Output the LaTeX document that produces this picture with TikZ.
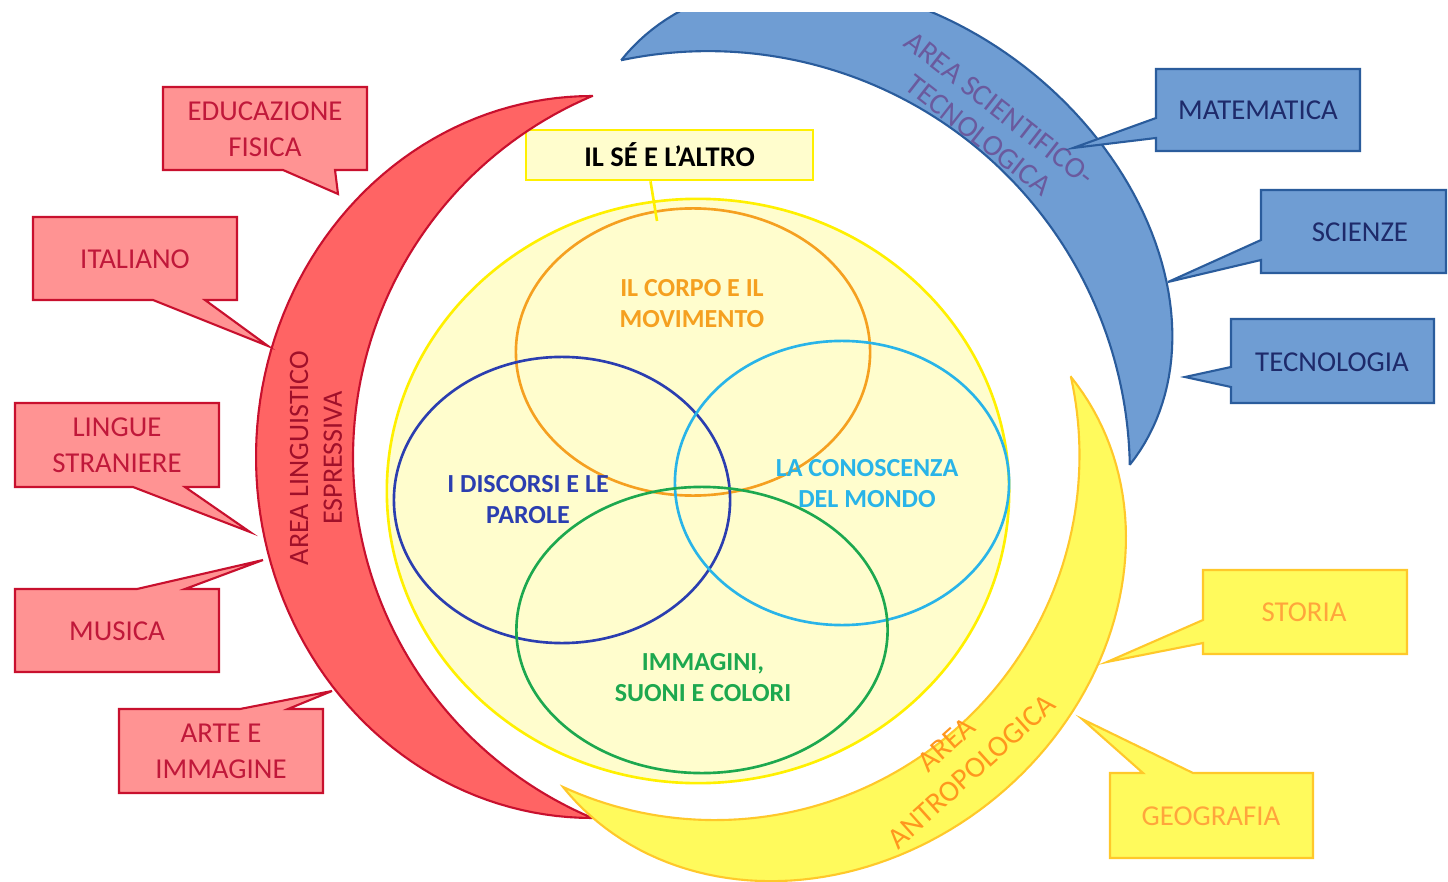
\documentclass[tikz,border=0pt]{standalone}
\usepackage{fontspec}
\setmainfont{Carlito}
\usetikzlibrary{calc}
\definecolor{redfill}{HTML}{FF6464}
\definecolor{redcall}{HTML}{FF9393}
\definecolor{redline}{HTML}{C8102E}
\definecolor{redtext}{HTML}{C0183A}
\definecolor{redarea}{HTML}{A0102A}
\definecolor{bluefill}{HTML}{6F9DD3}
\definecolor{blueline}{HTML}{2A5C9C}
\definecolor{bluetext}{HTML}{1E2A6A}
\definecolor{bluearea}{HTML}{6A5A9E}
\definecolor{yelfill}{HTML}{FFFA5C}
\definecolor{yelline}{HTML}{FFC82A}
\definecolor{yeltext}{HTML}{FFA53C}
\definecolor{yelarea}{HTML}{FF961E}
\definecolor{circfill}{HTML}{FFFDCD}
\definecolor{circline}{HTML}{FFF000}
\definecolor{vorange}{HTML}{F5A020}
\definecolor{vblue}{HTML}{2B3EB0}
\definecolor{vcyan}{HTML}{29B4E8}
\definecolor{vgreen}{HTML}{1DA84F}
\begin{document}
\begin{tikzpicture}[x=0.01cm,y=-0.01cm,
  crescred/.style={fill=redfill,draw=redline,line width=0.6pt},
  crescblue/.style={fill=bluefill,draw=blueline,line width=0.6pt},
  crescyel/.style={fill=yelfill,draw=yelline,line width=0.6pt},
  callred/.style={fill=redcall,draw=redline,line width=0.6pt},
  callblue/.style={fill=bluefill,draw=blueline,line width=0.6pt},
  callyel/.style={fill=yelfill,draw=yelline,line width=0.6pt},
  txtred/.style={text=redtext,font=\fontsize{8.2}{10.2}\selectfont,align=center,inner sep=0pt},
  txtblue/.style={text=bluetext,font=\fontsize{8.2}{10.2}\selectfont,align=center,inner sep=0pt},
  txtyel/.style={text=yeltext,font=\fontsize{8.2}{10.2}\selectfont,align=center,inner sep=0pt},
  areared/.style={text=redarea,font=\fontsize{8}{9.6}\selectfont,align=center,inner sep=0pt},
  areablue/.style={text=bluearea,font=\fontsize{8.5}{9.6}\selectfont,align=center,inner sep=0pt},
  areayel/.style={text=yelarea,font=\fontsize{8.5}{10.4}\selectfont,align=center,inner sep=0pt},
  venn/.style={line width=0.75pt},
  vlabel/.style={font=\bfseries\fontsize{7.4}{8.8}\selectfont,align=center,inner sep=0pt}
]
\useasboundingbox (0,0) rectangle (1448,882);
\fill[white] (0,0) rectangle (1448,882);

% ---------- central Venn ----------
\filldraw[fill=circfill,draw=circline,venn] (698,491) ellipse [x radius=3.11cm,y radius=2.92cm];
\draw[vorange,venn] (693,352) ellipse [x radius=1.77cm,y radius=1.435cm];
\draw[vblue,venn] (562,500) ellipse [x radius=1.68cm,y radius=1.43cm];
\draw[vcyan,venn] (842,483) ellipse [x radius=1.67cm,y radius=1.42cm];
\draw[vgreen,venn] (702,630) ellipse [x radius=1.855cm,y radius=1.43cm];

\node[vlabel,text=vorange] (corpo) at (692,304) {IL CORPO E IL\\MOVIMENTO};
\node[vlabel,text=vblue] (discorsi) at (528,500) {I DISCORSI E LE\\PAROLE};
\node[vlabel,text=vcyan] (mondo) at (867,484) {LA CONOSCENZA\\DEL MONDO};
\node[vlabel,text=vgreen] (immagini) at (703,678) {IMMAGINI,\\SUONI E COLORI};

\node[draw=circline,fill=circfill,line width=0.75pt,minimum width=2.87cm,minimum height=0.5cm,
      font=\bfseries\fontsize{8.1}{9.6}\selectfont,inner sep=0pt] (se) at (669.5,155) {IL SÉ E L’ALTRO};
\coordinate (seend) at (657,221);
\draw[circline,venn] ($(se.south)+(-19,0)$) -- (seend);

% ---------- red crescent ----------
\filldraw[crescred] plot[domain=0:180,samples=90] ({592+336*cos(270-\x)},{457+361*sin(270-\x)})
  -- plot[domain=112.97:247.03,samples=90] ({745+392*cos(\x)},{457+392*sin(\x)}) -- cycle;
\node[areared,rotate=90] (arealing) at (316,458) {AREA LINGUISTICO\\ESPRESSIVA};

% ---------- blue crescent ----------
\begin{scope}
\clip (0,13) rectangle (1448,882);
\filldraw[crescblue] plot[domain=0:180,samples=90] ({875.5+254.3*cos(180-\x)+153.2*sin(180-\x)},{262.5+202.3*cos(180-\x)-192.5*sin(180-\x)})
  -- plot[domain=0:100.87,samples=90] ({708.2+421.7*cos(-1.06-\x)},{472.8+421.7*sin(-1.06-\x)}) -- cycle;
\end{scope}
\node[areablue,rotate=-38] (areasci) at (989,122) {AREA SCIENTIFICO-\\TECNOLOGICA};

% ---------- yellow crescent ----------
\filldraw[crescyel] plot[domain=0:180,samples=90] ({817+254.0*cos(\x)+175.9*sin(\x)},{582-205.0*cos(\x)+217.9*sin(\x)})
  -- plot[domain=0:127.01,samples=90] ({714.8+364.7*cos(114.6-\x)},{455.4+364.7*sin(114.6-\x)}) -- cycle;
\node[areayel,rotate=42] (areaantro) at (959,758) {AREA\\ANTROPOLOGICA};

% ---------- red callouts ----------
\filldraw[callred] (163,87) -- (367,87) -- (367,170) -- (335,170) -- (338,194) -- (283,170) -- (163,170) -- cycle;
\node[txtred] (educ) at (265,129) {EDUCAZIONE\\FISICA};
\filldraw[callred] (33,217) -- (237,217) -- (237,300) -- (205,300) -- (268,346) -- (153,300) -- (33,300) -- cycle;
\node[txtred] (ital) at (135,259) {ITALIANO};
\filldraw[callred] (15,403) -- (219,403) -- (219,487) -- (185,487) -- (250,532) -- (133,487) -- (15,487) -- cycle;
\node[txtred] (lingue) at (117,445) {LINGUE\\STRANIERE};
\filldraw[callred] (15,589) -- (137,589) -- (263,560) -- (185,589) -- (219,589) -- (219,672) -- (15,672) -- cycle;
\node[txtred] (musica) at (117,631) {MUSICA};
\filldraw[callred] (119,709) -- (240,709) -- (332,691) -- (288,709) -- (323,709) -- (323,793) -- (119,793) -- cycle;
\node[txtred] (arte) at (221,751) {ARTE E\\IMMAGINE};

% ---------- blue callouts ----------
\filldraw[callblue] (1156,69) -- (1360,69) -- (1360,151) -- (1156,151) -- (1156,138) -- (1073,148) -- (1156,118) -- cycle;
\node[txtblue] (mate) at (1258,110) {MATEMATICA};
\filldraw[callblue] (1261,190) -- (1446,190) -- (1446,273) -- (1261,273) -- (1261,260) -- (1168,282) -- (1261,240) -- cycle;
\node[txtblue] (scienze) at (1360,232) {SCIENZE};
\filldraw[callblue] (1231,319) -- (1434,319) -- (1434,403) -- (1231,403) -- (1231,387) -- (1185,377) -- (1231,367) -- cycle;
\node[txtblue] (tecno) at (1332,362) {TECNOLOGIA};

% ---------- yellow callouts ----------
\filldraw[callyel] (1203,570) -- (1407,570) -- (1407,654) -- (1203,654) -- (1203,643) -- (1107,662) -- (1203,620) -- cycle;
\node[txtyel] (storia) at (1304,612) {STORIA};
\filldraw[callyel] (1110,773) -- (1143,773) -- (1082,719) -- (1193,773) -- (1313,773) -- (1313,858) -- (1110,858) -- cycle;
\node[txtyel] (geo) at (1211,816) {GEOGRAFIA};
\end{tikzpicture}
\end{document}
